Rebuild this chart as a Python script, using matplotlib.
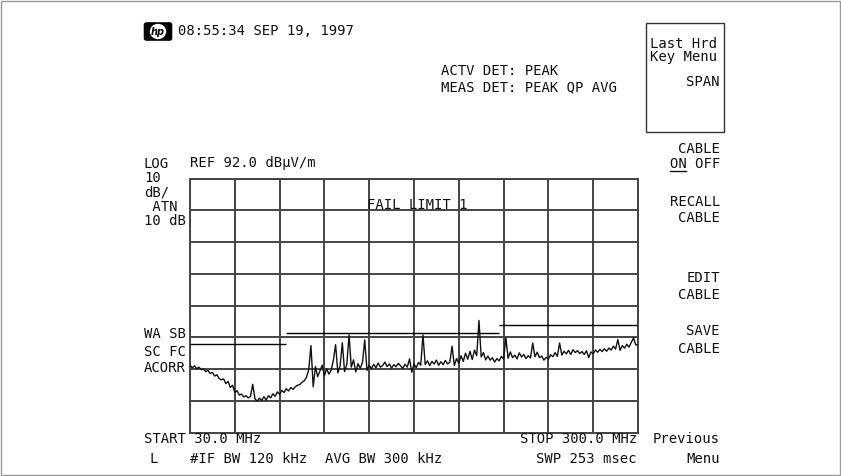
import numpy as np
import matplotlib
matplotlib.use("Agg")
import matplotlib.pyplot as plt
from matplotlib.patches import Rectangle, FancyBboxPatch, Ellipse

# sweep: 30 - 300 MHz, 201 trace points
start_mhz = 30.0
stop_mhz = 300.0
ref_level = 92.0
db_per_div = 10
n_div_y = 8

trace_db = [
    33.2, 32.4, 33.0, 32.1, 32.6, 31.8, 32.0, 31.2, 31.6, 30.6,
    30.9, 29.8, 30.2, 29.0, 28.6, 28.9, 27.4, 28.1, 26.2, 26.9,
    24.6, 25.2, 23.8, 24.1, 23.2, 23.6, 22.9, 23.4, 27.2, 22.6,
    21.9, 22.8, 22.1, 23.3, 22.2, 23.6, 22.9, 24.2, 23.4, 24.8,
    24.0, 25.3, 24.6, 25.8, 25.1, 26.2, 25.6, 26.4, 26.9, 27.1,
    27.8, 28.3, 29.4, 31.8, 39.4, 26.4, 32.8, 29.6, 31.4, 33.2,
    29.9, 32.1, 30.4, 31.6, 34.8, 39.7, 30.8, 32.9, 40.3, 31.2,
    33.4, 42.8, 32.6, 34.9, 31.1, 33.7, 32.2, 34.1, 41.2, 31.6,
    33.2, 32.1, 33.5, 32.4, 33.9, 32.6, 33.1, 34.2, 32.8, 33.6,
    32.3, 33.4, 32.7, 33.8, 33.0, 32.2, 33.5, 32.6, 35.2, 31.0,
    33.6, 32.4, 34.1, 33.2, 42.8, 33.4, 34.6, 33.1, 34.4, 33.6,
    34.8, 33.2, 34.3, 33.4, 34.7, 33.6, 34.2, 39.2, 33.1, 35.3,
    33.8, 36.2, 34.4, 37.0, 35.1, 37.6, 35.0, 38.0, 36.2, 47.3,
    35.8, 37.2, 34.9, 36.1, 34.8, 35.6, 34.2, 35.3, 34.6, 36.0,
    35.1, 41.9, 35.4, 37.4, 35.6, 36.4, 35.2, 37.1, 35.8, 36.6,
    35.3, 36.2, 35.5, 40.2, 35.9, 37.3, 35.6, 36.1, 34.8, 35.7,
    35.1, 36.5, 35.9, 37.2, 36.0, 40.2, 36.4, 37.6, 36.8, 37.9,
    36.6, 38.1, 37.2, 37.8, 36.9, 37.5, 36.6, 37.8, 35.6, 37.4,
    36.8, 38.0, 37.3, 38.2, 37.5, 38.4, 37.6, 38.6, 38.0, 39.2,
    38.3, 41.3, 37.9, 39.4, 38.6, 39.8, 38.9, 40.4, 41.8, 39.6,
    39.7,
]
trace_mhz = np.linspace(start_mhz, stop_mhz, len(trace_db))

# limit line 1 (FCC class B style steps)
limit_start = [30, 88, 216]
limit_stop = [88, 216, 300]
limit_db = [40.0, 43.5, 46.0]

W, H = 841, 476
fig = plt.figure(figsize=(W / 100, H / 100), dpi=100)
fig.patch.set_facecolor("white")

# graticule area in pixels
gx0, gx1 = 190, 638
gy0, gy1 = 178.7, 432.5
ax = fig.add_axes([gx0 / W, 1 - gy1 / H, (gx1 - gx0) / W, (gy1 - gy0) / H])
ax.set_xlim(start_mhz, stop_mhz)
ax.set_ylim(ref_level - n_div_y * db_per_div, ref_level)
ax.set_xticks(np.linspace(start_mhz, stop_mhz, 11))
ax.set_yticks(np.arange(ref_level - n_div_y * db_per_div, ref_level + 1, db_per_div))
ax.tick_params(length=0, labelbottom=False, labelleft=False)
ax.grid(True, color="#444444", linewidth=1.4)
for s in ax.spines.values():
    s.set_color("#444444")
    s.set_linewidth(1.4)

ax.hlines(limit_db, limit_start, limit_stop, colors="black", linewidth=1.0, zorder=3)
ax.plot(trace_mhz, trace_db, color="#111111", linewidth=1.0, zorder=4)

# overlay in pixel coords for the screen annotations
ov = fig.add_axes([0, 0, 1, 1], facecolor="none")
ov.set_xlim(0, W)
ov.set_ylim(H, 0)
ov.axis("off")

mono = dict(family="DejaVu Sans Mono", fontsize=10, color="#111111", va="center")

def txt(x, y, s, ha="left"):
    ov.text(x, y, s, ha=ha, **mono)

# outer frame
ov.add_patch(Rectangle((0.5, 0.5), W - 1.5, H - 1.5, fill=False, edgecolor="#9a9a9a", linewidth=1.0))

# hp logo
ov.add_patch(FancyBboxPatch((145, 23.5), 26, 16, boxstyle="round,pad=0.6,rounding_size=2",
                            facecolor="black", edgecolor="black"))
ov.add_patch(Ellipse((158, 31.5), 15, 14, facecolor="white", edgecolor="white"))
ov.text(158, 31.8, "hp", ha="center", va="center", fontsize=7, fontstyle="italic",
        fontweight="bold", family="DejaVu Sans", color="black")

txt(178, 31, "08:55:34 SEP 19, 1997")
txt(441, 71, "ACTV DET: PEAK")
txt(441, 87, "MEAS DET: PEAK QP AVG")

# softkey box
ov.add_patch(Rectangle((646.5, 23), 78, 108.5, fill=False, edgecolor="#333333", linewidth=1.0))
txt(650, 43.5, "Last Hrd")
txt(650, 57, "Key Menu")
kx = 720
txt(kx, 82, "SPAN", ha="right")
txt(kx, 149, "CABLE", ha="right")
txt(kx, 164, "ON OFF", ha="right")
ov.plot([670, 686], [171, 171], color="#111111", linewidth=1.0)
txt(kx, 202.5, "RECALL", ha="right")
txt(kx, 217.5, "CABLE", ha="right")
txt(kx, 278, "EDIT", ha="right")
txt(kx, 295, "CABLE", ha="right")
txt(kx, 331, "SAVE", ha="right")
txt(kx, 349, "CABLE", ha="right")
txt(kx, 439, "Previous", ha="right")
txt(kx, 459, "Menu", ha="right")

# left annotations
txt(144, 163.5, "LOG")
txt(190, 163.5, "REF 92.0 dB\u00b5V/m")
txt(144, 178.5, "10")
txt(144, 193, "dB/")
txt(144, 207, " ATN")
txt(144, 221, "10 dB")
txt(144, 334, "WA SB")
txt(144, 352, "SC FC")
txt(144, 368, "ACORR")

txt(417, 205, "FAIL LIMIT 1", ha="center")

# bottom annotations
txt(144, 439, "START 30.0 MHz")
txt(637, 439, "STOP 300.0 MHz", ha="right")
txt(150, 459, "L")
txt(190, 459, "#IF BW 120 kHz")
txt(325, 459, "AVG BW 300 kHz")
txt(637, 459, "SWP 253 msec", ha="right")

fig.savefig("out.png", dpi=100)
